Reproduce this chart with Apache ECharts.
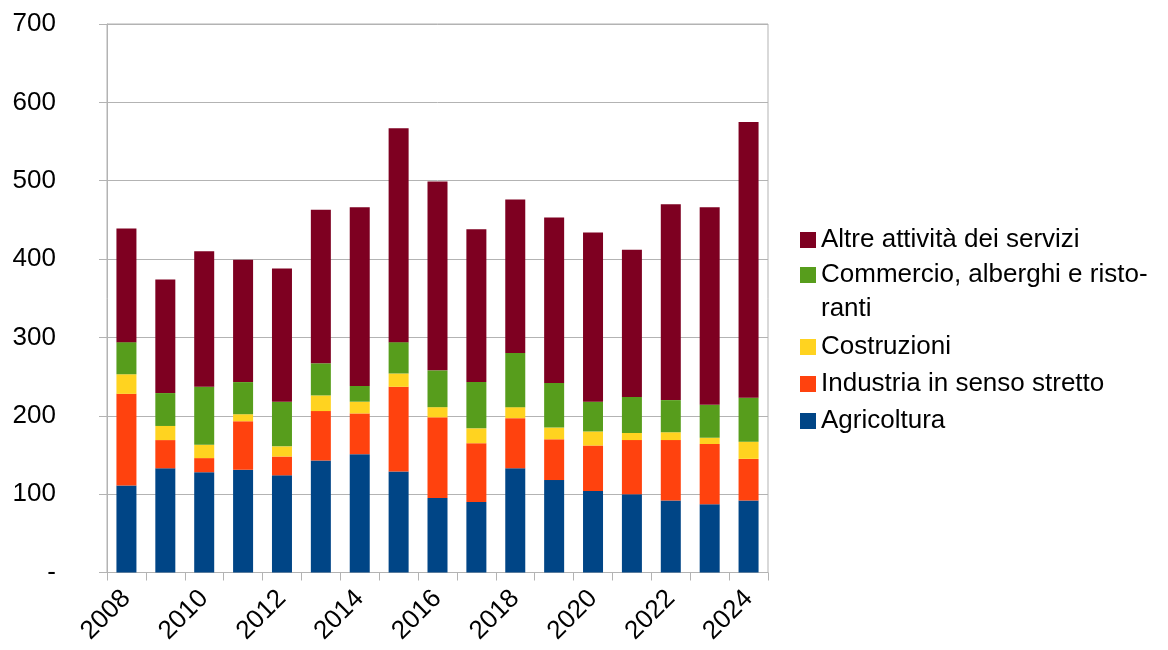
<!DOCTYPE html>
<html><head><meta charset="utf-8">
<script src="https://cdn.jsdelivr.net/npm/echarts@6/dist/echarts.min.js"></script>
<style>html,body{margin:0;padding:0;background:#fff}#c{width:1168px;height:650px}</style>
</head><body><div id="c"></div>
<script>
const years = ['2008','2009','2010','2011','2012','2013','2014','2015','2016','2017','2018','2019','2020','2021','2022','2023','2024'];
const agricoltura = [111,133,128,131,124,143,151,129,95,90,133,118,104,100,92,87,92];
const industria = [117,36,18,62,24,63,52,108,103,75,64,52,58,69,77,77,53];
const costruzioni = [25,18,17,9,13,20,15,17,13,19,14,15,18,9,10,8,22];
const commercio = [41,42,74,41,57,41,20,40,47,59,69,57,38,46,41,42,56];
const altre = [145,145,173,156,170,196,228,273,241,195,196,211,216,188,250,252,352];
const names = ['Agricoltura','Industria in senso stretto','Costruzioni','Commercio, alberghi e ristoranti','Altre attività dei servizi'];
const colors = ['#004586','#ff420e','#ffd320','#579d1c','#7e0021'];
const dataSets = [agricoltura, industria, costruzioni, commercio, altre];

const font = 'Liberation Sans, Arial, sans-serif';
const chart = echarts.init(document.getElementById('c'), null, {renderer:'canvas'});
const legendText = {fontSize: 26, color: '#000', fontFamily: font, lineHeight: 30};
chart.setOption({
  animation: false,
  grid: {left: 107, right: 400, top: 24, bottom: 77.5, show: true, borderColor: '#b3b3b3', borderWidth: 1},
  xAxis: {
    type: 'category', data: years, boundaryGap: true,
    axisLine: {lineStyle: {color: '#b3b3b3'}},
    axisTick: {show: true, length: 8, interval: 0, lineStyle: {color: '#b3b3b3'}},
    axisLabel: {interval: 1, rotate: 45, fontSize: 26, color: '#000', fontFamily: font, margin: 22}
  },
  yAxis: {
    type: 'value', min: 0, max: 700, interval: 100,
    axisLine: {show: true, lineStyle: {color: '#b3b3b3'}},
    axisTick: {show: true, length: 8, lineStyle: {color: '#b3b3b3'}},
    splitLine: {lineStyle: {color: '#b3b3b3'}},
    axisLabel: {fontSize: 26, color: '#000', fontFamily: font, margin: 51, align: 'right',
      formatter: v => v === 0 ? '-' : String(v)}
  },
  legend: [
    {orient: 'vertical', left: 800, top: 225, padding: 0, itemWidth: 16, itemHeight: 16, itemGap: 5,
     icon: 'rect', textStyle: legendText,
     data: [names[4], names[3]],
     formatter: n => n === names[3] ? 'Commercio, alberghi e risto-' : n},
    {orient: 'vertical', left: 800, top: 332, padding: 0, itemWidth: 16, itemHeight: 16, itemGap: 7,
     icon: 'rect', textStyle: legendText,
     data: [names[2], names[1], names[0]]}
  ],
  graphic: [{type: 'text', left: 821, top: 296, style: {text: 'ranti', fontSize: 26, fill: '#000', fontFamily: font}}],
  series: dataSets.map((d, i) => ({
    name: names[i], type: 'bar', stack: 'tot', data: d, barWidth: 20,
    itemStyle: {color: colors[i]}
  }))
});
</script></body></html>
